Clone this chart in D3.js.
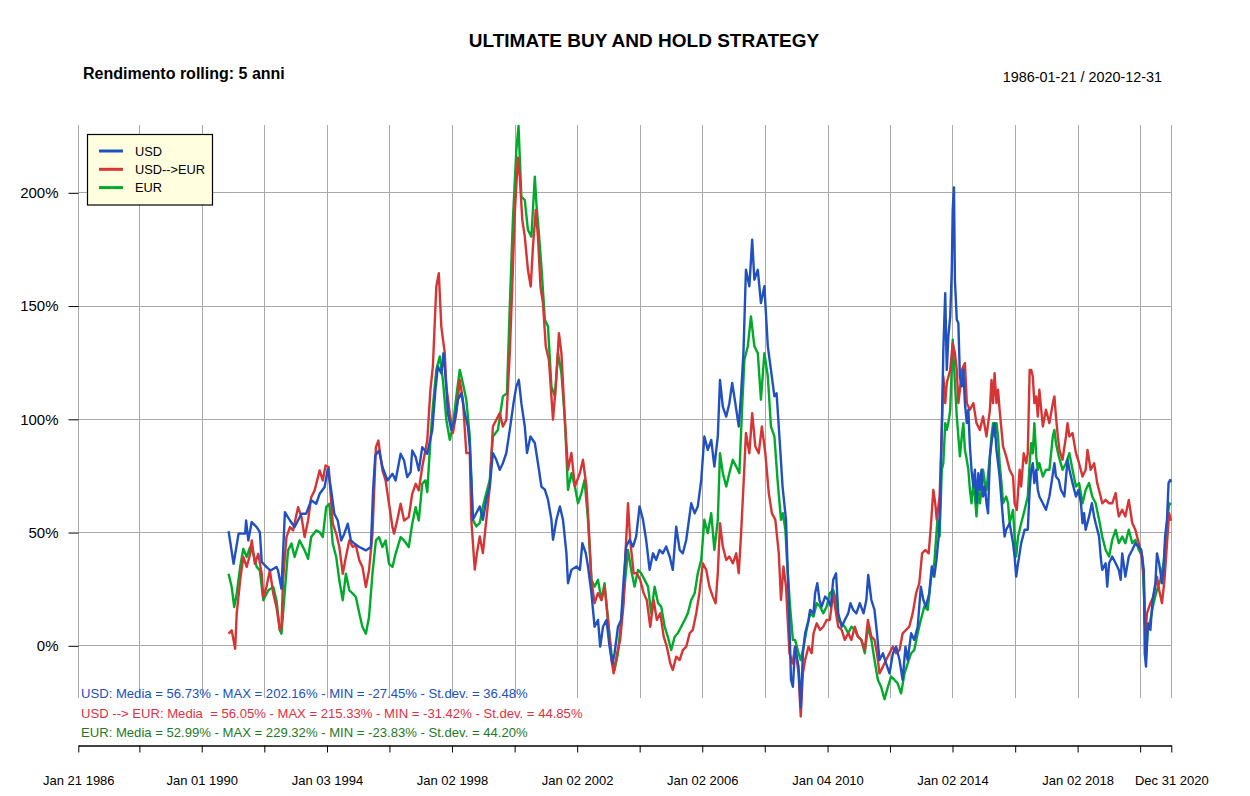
<!DOCTYPE html>
<html><head><meta charset="utf-8">
<script src="https://cdn.jsdelivr.net/npm/d3@7"></script>
<style>body{margin:0;background:#fff}svg{display:block;font-family:"Liberation Sans",Arial,sans-serif}</style>
</head><body><svg id="c" width="1250" height="796"></svg>
<script>
// ---- DATA (time as decimal year, value in %) ----
const seriesNames = ["USD", "USD-->EUR", "EUR"];
const usd = [[1990.86,50.4],[1991.02,36.0],[1991.18,49.3],[1991.39,49.3],[1991.42,55.1],[1991.49,46.3],[1991.60,54.4],[1991.76,52.2],[1991.86,50.0],[1991.92,36.8],[1992.07,34.6],[1992.20,33.0],[1992.39,34.6],[1992.44,33.1],[1992.55,25.0],[1992.66,58.8],[1992.82,55.1],[1992.97,52.2],[1993.19,58.1],[1993.34,58.1],[1993.50,64.0],[1993.66,62.5],[1993.77,66.9],[1993.93,69.9],[1994.03,77.9],[1994.14,68.4],[1994.24,58.1],[1994.35,55.1],[1994.46,46.3],[1994.56,49.3],[1994.67,53.7],[1994.77,46.3],[1994.88,44.9],[1995.04,43.4],[1995.25,41.9],[1995.41,43.4],[1995.48,68.4],[1995.55,83.8],[1995.67,86.0],[1995.78,78.7],[1995.94,72.8],[1996.10,75.7],[1996.20,72.8],[1996.36,84.6],[1996.47,81.6],[1996.57,74.3],[1996.68,76.5],[1996.73,86.0],[1996.84,83.1],[1996.94,77.2],[1997.05,87.5],[1997.21,84.6],[1997.37,94.9],[1997.47,112.5],[1997.55,123.1],[1997.66,120.1],[1997.73,129.0],[1997.82,114.3],[1997.87,102.5],[1997.98,95.1],[1998.09,99.6],[1998.19,108.4],[1998.30,111.3],[1998.41,102.5],[1998.51,96.6],[1998.57,87.8],[1998.62,73.1],[1998.67,55.4],[1998.78,58.4],[1998.89,61.3],[1998.99,55.4],[1999.10,64.3],[1999.21,70.1],[1999.31,84.9],[1999.42,81.9],[1999.53,77.5],[1999.63,80.4],[1999.74,84.9],[1999.85,95.1],[1999.97,106.9],[2000.06,114.3],[2000.14,117.2],[2000.22,106.9],[2000.33,96.6],[2000.40,84.9],[2000.51,92.2],[2000.65,89.3],[2000.75,80.4],[2000.86,70.1],[2000.97,68.7],[2001.07,64.3],[2001.18,55.4],[2001.23,46.6],[2001.34,55.4],[2001.45,61.3],[2001.55,55.4],[2001.66,40.6],[2001.71,27.4],[2001.82,33.3],[2001.98,34.8],[2002.09,33.3],[2002.17,45.1],[2002.28,40.6],[2002.35,34.8],[2002.46,23.0],[2002.56,8.2],[2002.67,11.2],[2002.74,-0.6],[2002.83,8.2],[2002.94,11.2],[2003.04,-0.6],[2003.13,-8.0],[2003.20,-3.5],[2003.31,8.2],[2003.41,11.2],[2003.49,28.9],[2003.57,43.6],[2003.68,46.5],[2003.79,43.6],[2003.89,48.0],[2004.00,61.3],[2004.11,55.4],[2004.21,46.5],[2004.32,33.3],[2004.43,40.6],[2004.53,37.7],[2004.64,42.1],[2004.74,40.6],[2004.85,43.6],[2004.96,39.2],[2005.06,33.3],[2005.17,52.4],[2005.28,42.1],[2005.38,40.6],[2005.49,46.5],[2005.65,62.7],[2005.76,58.3],[2005.86,61.3],[2005.97,73.0],[2006.07,92.2],[2006.18,86.3],[2006.29,90.7],[2006.39,78.9],[2006.50,92.2],[2006.57,117.2],[2006.66,105.4],[2006.77,101.0],[2006.87,106.9],[2006.96,115.8],[2007.06,106.9],[2007.17,96.6],[2007.24,109.9],[2007.32,129.0],[2007.40,165.8],[2007.51,158.5],[2007.60,179.1],[2007.67,161.4],[2007.78,165.8],[2007.88,151.1],[2007.99,158.5],[2008.10,132.0],[2008.20,121.6],[2008.31,109.9],[2008.38,111.3],[2008.47,92.2],[2008.57,70.1],[2008.68,55.4],[2008.77,18.6],[2008.84,-15.3],[2008.90,-18.3],[2008.97,-0.6],[2009.08,-9.4],[2009.15,-27.45],[2009.22,-3.5],[2009.29,5.3],[2009.40,11.2],[2009.45,15.6],[2009.56,14.1],[2009.61,23.0],[2009.68,27.4],[2009.75,20.0],[2009.82,17.1],[2009.93,21.5],[2010.03,20.0],[2010.11,17.1],[2010.19,28.9],[2010.28,31.8],[2010.35,14.1],[2010.46,8.2],[2010.56,11.2],[2010.67,14.1],[2010.74,18.6],[2010.83,15.6],[2010.93,14.1],[2011.04,18.6],[2011.16,14.1],[2011.25,20.0],[2011.31,31.1],[2011.41,20.0],[2011.51,15.6],[2011.59,5.3],[2011.67,-6.5],[2011.78,-3.5],[2011.88,-8.0],[2011.99,-12.4],[2012.10,-3.5],[2012.20,-0.6],[2012.31,-6.5],[2012.41,-15.3],[2012.50,-0.6],[2012.57,-6.5],[2012.68,5.3],[2012.78,2.4],[2012.89,8.2],[2012.99,25.9],[2013.07,20.0],[2013.15,17.1],[2013.26,23.0],[2013.34,34.8],[2013.42,30.3],[2013.49,37.7],[2013.56,48.0],[2013.61,62.7],[2013.66,95.1],[2013.71,130.5],[2013.77,155.5],[2013.82,121.6],[2013.87,136.4],[2013.93,145.2],[2013.98,165.8],[2014.01,192.3],[2014.05,202.16],[2014.08,161.4],[2014.14,143.7],[2014.19,142.3],[2014.24,118.7],[2014.30,114.3],[2014.35,121.6],[2014.40,106.9],[2014.46,98.1],[2014.51,104.0],[2014.56,87.8],[2014.61,77.5],[2014.67,70.1],[2014.72,77.5],[2014.77,62.7],[2014.83,76.0],[2014.88,68.6],[2014.93,77.5],[2014.98,65.7],[2015.04,70.1],[2015.09,62.7],[2015.14,58.3],[2015.20,83.4],[2015.25,89.2],[2015.30,95.1],[2015.35,98.1],[2015.41,86.3],[2015.46,80.4],[2015.51,74.5],[2015.62,55.4],[2015.67,48.0],[2015.72,51.0],[2015.83,53.9],[2015.94,45.1],[2015.99,39.2],[2016.04,30.3],[2016.10,36.2],[2016.15,40.6],[2016.20,45.1],[2016.31,51.0],[2016.41,51.0],[2016.47,68.6],[2016.52,77.5],[2016.57,80.4],[2016.62,71.6],[2016.68,77.5],[2016.73,68.6],[2016.78,65.7],[2016.89,62.7],[2016.99,59.8],[2017.10,65.7],[2017.15,70.1],[2017.26,80.4],[2017.31,74.5],[2017.40,73.0],[2017.47,68.6],[2017.58,65.7],[2017.68,81.9],[2017.74,77.5],[2017.84,71.6],[2017.95,65.7],[2018.03,68.6],[2018.11,62.7],[2018.16,53.9],[2018.21,58.3],[2018.26,51.0],[2018.37,56.9],[2018.46,62.7],[2018.53,56.9],[2018.58,53.9],[2018.69,48.0],[2018.74,39.2],[2018.79,33.3],[2018.90,36.2],[2018.95,25.9],[2019.01,36.2],[2019.11,39.2],[2019.22,36.2],[2019.32,33.3],[2019.38,28.9],[2019.43,40.6],[2019.53,30.3],[2019.64,39.2],[2019.75,42.1],[2019.85,45.1],[2019.96,43.6],[2020.04,42.1],[2020.12,33.3],[2020.15,-3.5],[2020.19,-9.4],[2020.25,9.7],[2020.33,6.8],[2020.40,20.0],[2020.49,27.4],[2020.54,40.6],[2020.61,36.2],[2020.70,27.4],[2020.75,33.3],[2020.80,48.0],[2020.86,55.4],[2020.91,71.6],[2020.96,73.0],[2020.99,72.0]];
const usdEur = [[1990.86,5.1],[1990.96,6.6],[1991.07,-1.5],[1991.12,14.0],[1991.23,28.7],[1991.33,39.0],[1991.44,34.6],[1991.55,40.4],[1991.60,46.3],[1991.70,36.0],[1991.81,40.4],[1991.92,31.6],[1991.97,21.3],[1992.07,25.7],[1992.18,33.1],[1992.29,22.8],[1992.39,16.9],[1992.50,6.6],[1992.55,8.1],[1992.60,28.7],[1992.71,47.8],[1992.82,52.2],[1992.92,50.7],[1993.08,61.0],[1993.19,56.6],[1993.29,47.8],[1993.40,55.1],[1993.50,65.4],[1993.61,68.4],[1993.77,77.2],[1993.87,72.8],[1993.96,79.4],[1994.06,78.7],[1994.19,53.7],[1994.30,49.3],[1994.40,43.4],[1994.51,31.6],[1994.61,39.0],[1994.72,46.3],[1994.83,43.4],[1994.93,44.1],[1995.04,37.5],[1995.14,34.6],[1995.25,25.7],[1995.35,33.1],[1995.46,49.3],[1995.57,87.5],[1995.65,90.4],[1995.78,77.2],[1995.88,72.8],[1995.99,62.5],[1996.10,52.2],[1996.15,49.3],[1996.25,55.1],[1996.36,62.5],[1996.47,55.1],[1996.62,56.6],[1996.73,66.9],[1996.84,71.3],[1996.94,68.4],[1997.05,78.7],[1997.21,90.4],[1997.31,112.5],[1997.39,123.1],[1997.50,158.4],[1997.58,164.3],[1997.66,140.7],[1997.77,129.0],[1997.82,114.3],[1997.93,102.5],[1998.03,93.7],[1998.14,102.5],[1998.25,117.2],[1998.35,108.4],[1998.46,84.9],[1998.57,84.9],[1998.62,55.4],[1998.73,33.4],[1998.80,40.7],[1998.89,48.1],[1998.99,40.7],[1999.10,55.4],[1999.21,70.1],[1999.31,96.6],[1999.42,99.6],[1999.53,102.5],[1999.63,96.6],[1999.74,99.6],[1999.85,129.0],[1999.93,158.4],[2000.01,190.7],[2000.11,215.33],[2000.17,206.9],[2000.25,187.8],[2000.33,180.4],[2000.43,165.7],[2000.52,158.4],[2000.59,176.0],[2000.68,192.2],[2000.75,180.4],[2000.83,158.4],[2000.91,151.0],[2001.00,131.9],[2001.10,126.0],[2001.23,99.6],[2001.32,114.3],[2001.42,137.8],[2001.50,129.0],[2001.61,99.6],[2001.71,77.5],[2001.82,84.9],[2001.93,70.1],[2002.09,76.0],[2002.19,81.9],[2002.30,70.1],[2002.35,58.3],[2002.46,28.9],[2002.56,18.6],[2002.67,23.0],[2002.78,20.0],[2002.88,25.9],[2002.99,11.2],[2003.10,-6.5],[2003.17,-12.4],[2003.28,-3.5],[2003.38,2.4],[2003.49,18.6],[2003.55,40.6],[2003.63,62.7],[2003.70,46.5],[2003.81,31.8],[2003.91,31.8],[2004.02,28.9],[2004.13,23.0],[2004.23,20.0],[2004.34,8.2],[2004.45,20.0],[2004.55,11.2],[2004.66,14.1],[2004.77,3.8],[2004.87,-0.6],[2004.98,-8.0],[2005.06,-10.9],[2005.17,-5.0],[2005.28,-6.5],[2005.38,-2.1],[2005.49,-0.6],[2005.60,5.3],[2005.70,6.8],[2005.81,14.1],[2005.91,23.0],[2006.02,36.2],[2006.13,33.3],[2006.23,25.9],[2006.34,21.5],[2006.43,18.6],[2006.50,31.8],[2006.57,53.9],[2006.66,43.6],[2006.77,37.7],[2006.87,39.2],[2006.98,36.2],[2007.09,40.6],[2007.17,31.8],[2007.24,48.0],[2007.32,70.1],[2007.40,93.7],[2007.51,84.8],[2007.60,102.5],[2007.70,87.8],[2007.81,84.8],[2007.91,96.6],[2008.02,84.8],[2008.13,67.2],[2008.23,58.3],[2008.34,55.4],[2008.45,40.6],[2008.52,20.0],[2008.60,34.8],[2008.68,25.9],[2008.79,-3.5],[2008.89,-8.0],[2008.97,-0.6],[2009.08,-12.4],[2009.15,-31.42],[2009.22,-12.4],[2009.29,-6.5],[2009.40,-0.6],[2009.50,-3.5],[2009.56,5.3],[2009.66,9.7],[2009.77,6.8],[2009.87,8.2],[2009.98,11.2],[2010.08,11.2],[2010.19,23.0],[2010.28,14.1],[2010.35,8.2],[2010.46,6.8],[2010.56,2.4],[2010.67,5.3],[2010.77,2.4],[2010.88,8.2],[2010.98,3.8],[2011.09,2.4],[2011.20,-2.1],[2011.30,11.2],[2011.41,3.8],[2011.51,2.4],[2011.59,-3.5],[2011.67,-12.4],[2011.78,-9.4],[2011.88,-6.5],[2011.99,-3.5],[2012.10,-0.6],[2012.20,-3.5],[2012.31,-2.1],[2012.41,5.3],[2012.52,6.8],[2012.62,8.2],[2012.73,14.1],[2012.84,23.0],[2012.94,27.4],[2013.03,40.6],[2013.13,42.1],[2013.24,40.6],[2013.31,52.4],[2013.39,68.6],[2013.45,62.7],[2013.50,55.4],[2013.59,65.7],[2013.66,95.1],[2013.71,118.7],[2013.77,106.9],[2013.82,115.8],[2013.93,121.6],[2014.01,133.4],[2014.08,129.0],[2014.14,121.6],[2014.19,106.9],[2014.24,112.8],[2014.30,121.6],[2014.40,124.6],[2014.46,106.9],[2014.56,104.0],[2014.67,106.9],[2014.77,98.1],[2014.88,95.1],[2014.98,101.0],[2015.09,92.2],[2015.20,104.0],[2015.25,117.2],[2015.30,106.9],[2015.35,120.1],[2015.41,106.9],[2015.46,112.8],[2015.51,104.0],[2015.57,95.1],[2015.62,87.8],[2015.72,83.4],[2015.83,77.5],[2015.94,74.5],[2015.99,62.7],[2016.06,59.8],[2016.15,77.5],[2016.20,70.1],[2016.28,84.8],[2016.36,80.4],[2016.41,84.8],[2016.47,121.6],[2016.52,121.6],[2016.57,118.7],[2016.62,106.9],[2016.68,109.9],[2016.73,101.0],[2016.78,112.8],[2016.84,104.0],[2016.89,96.6],[2016.99,104.0],[2017.10,98.1],[2017.21,106.9],[2017.26,109.9],[2017.31,101.0],[2017.37,92.2],[2017.42,86.3],[2017.52,81.9],[2017.63,92.2],[2017.68,98.1],[2017.74,92.2],[2017.84,93.7],[2017.95,84.8],[2018.05,80.4],[2018.16,74.5],[2018.26,77.5],[2018.32,86.3],[2018.42,77.5],[2018.53,80.4],[2018.63,71.6],[2018.74,65.7],[2018.79,62.7],[2018.90,64.2],[2019.01,62.7],[2019.11,62.7],[2019.22,67.2],[2019.27,61.3],[2019.32,56.9],[2019.43,59.8],[2019.53,56.9],[2019.64,64.2],[2019.75,54.0],[2019.85,51.0],[2019.96,45.1],[2020.04,40.6],[2020.12,30.3],[2020.17,3.8],[2020.22,14.1],[2020.33,18.6],[2020.43,21.5],[2020.54,30.3],[2020.61,24.4],[2020.70,18.6],[2020.78,28.9],[2020.86,45.1],[2020.93,58.3],[2020.99,55.0]];
const eur = [[1990.86,31.6],[1990.96,25.7],[1991.04,16.9],[1991.12,22.8],[1991.23,34.6],[1991.33,42.6],[1991.44,39.0],[1991.55,43.4],[1991.65,40.4],[1991.76,34.6],[1991.86,33.1],[1991.97,19.9],[1992.13,24.3],[1992.29,25.7],[1992.39,19.9],[1992.50,6.6],[1992.55,5.1],[1992.66,24.3],[1992.76,41.9],[1992.87,44.9],[1992.97,39.0],[1993.13,46.3],[1993.29,41.9],[1993.40,38.2],[1993.50,47.8],[1993.66,50.7],[1993.77,50.0],[1993.87,47.8],[1993.98,61.0],[1994.08,62.5],[1994.19,44.9],[1994.30,39.0],[1994.40,28.7],[1994.51,19.9],[1994.61,31.6],[1994.72,24.3],[1994.83,22.8],[1994.93,21.3],[1995.04,14.0],[1995.14,8.1],[1995.25,5.1],[1995.35,12.5],[1995.46,31.6],[1995.57,46.3],[1995.67,47.8],[1995.78,43.4],[1995.88,46.3],[1995.99,36.0],[1996.10,34.6],[1996.20,40.4],[1996.36,47.8],[1996.47,46.3],[1996.62,43.4],[1996.73,53.7],[1996.84,61.0],[1996.94,55.1],[1997.05,71.3],[1997.15,72.8],[1997.21,67.6],[1997.31,90.4],[1997.39,105.4],[1997.50,121.6],[1997.61,127.5],[1997.71,117.2],[1997.82,99.6],[1997.93,90.7],[1998.03,96.6],[1998.14,109.9],[1998.25,121.6],[1998.35,115.7],[1998.46,108.4],[1998.57,92.2],[1998.67,55.4],[1998.78,52.5],[1998.89,54.0],[1998.99,61.3],[1999.10,67.2],[1999.21,73.1],[1999.31,92.2],[1999.47,95.1],[1999.63,109.9],[1999.76,111.3],[1999.85,149.6],[1999.95,187.8],[2000.06,218.7],[2000.13,229.32],[2000.22,198.1],[2000.33,196.6],[2000.43,183.4],[2000.54,180.4],[2000.65,206.9],[2000.70,195.1],[2000.78,181.9],[2000.86,167.2],[2000.97,143.7],[2001.07,140.7],[2001.18,114.3],[2001.29,109.9],[2001.39,129.0],[2001.50,120.1],[2001.61,99.6],[2001.71,68.6],[2001.82,76.0],[2001.93,70.1],[2002.03,62.7],[2002.14,67.2],[2002.24,73.0],[2002.35,55.4],[2002.46,28.9],[2002.56,25.9],[2002.67,28.9],[2002.78,20.0],[2002.88,27.4],[2002.99,11.2],[2003.10,-3.5],[2003.20,-10.9],[2003.31,-3.5],[2003.41,11.2],[2003.52,25.9],[2003.63,42.1],[2003.73,33.3],[2003.84,25.9],[2003.95,33.3],[2004.05,31.8],[2004.16,28.9],[2004.27,25.9],[2004.37,14.1],[2004.48,25.9],[2004.59,18.6],[2004.69,17.1],[2004.80,8.2],[2004.90,3.8],[2005.01,-2.1],[2005.12,3.8],[2005.22,5.3],[2005.33,8.2],[2005.44,11.2],[2005.54,14.1],[2005.65,20.0],[2005.76,23.0],[2005.86,31.8],[2005.97,37.7],[2006.07,55.4],[2006.18,49.5],[2006.29,58.3],[2006.39,42.1],[2006.50,55.4],[2006.57,84.8],[2006.66,76.0],[2006.77,70.1],[2006.87,76.0],[2006.98,81.9],[2007.09,78.9],[2007.19,76.0],[2007.28,105.4],[2007.35,126.1],[2007.46,132.0],[2007.56,145.2],[2007.67,132.0],[2007.78,129.0],[2007.88,108.4],[2007.99,129.0],[2008.10,118.7],[2008.20,96.6],[2008.31,92.2],[2008.41,73.0],[2008.52,55.4],[2008.58,58.3],[2008.66,51.0],[2008.71,37.7],[2008.81,17.1],[2008.90,2.4],[2008.97,2.4],[2009.08,-3.5],[2009.15,-6.5],[2009.24,-0.6],[2009.34,6.8],[2009.45,14.1],[2009.56,12.7],[2009.66,18.6],[2009.77,17.1],[2009.87,14.1],[2009.98,17.1],[2010.08,23.0],[2010.19,24.4],[2010.28,20.0],[2010.35,11.2],[2010.46,9.7],[2010.56,8.2],[2010.67,5.3],[2010.77,8.2],[2010.88,6.8],[2010.98,3.8],[2011.09,2.4],[2011.20,-3.5],[2011.30,8.2],[2011.41,2.4],[2011.51,-6.5],[2011.62,-15.3],[2011.72,-18.3],[2011.83,-23.83],[2011.94,-18.3],[2012.04,-13.8],[2012.15,-15.3],[2012.25,-16.8],[2012.36,-21.2],[2012.47,-12.4],[2012.57,-8.0],[2012.68,-3.5],[2012.78,-2.1],[2012.89,5.3],[2012.99,11.2],[2013.10,17.1],[2013.21,15.6],[2013.31,28.9],[2013.42,36.2],[2013.52,55.4],[2013.59,48.0],[2013.66,77.5],[2013.71,80.4],[2013.77,98.1],[2013.82,95.1],[2013.87,98.1],[2013.93,104.0],[2014.01,134.9],[2014.08,115.8],[2014.14,101.0],[2014.19,92.2],[2014.24,83.4],[2014.30,92.2],[2014.35,98.1],[2014.40,86.3],[2014.46,81.9],[2014.51,77.5],[2014.56,68.6],[2014.61,62.7],[2014.67,71.6],[2014.72,65.7],[2014.77,56.9],[2014.83,68.6],[2014.88,62.7],[2014.93,68.6],[2014.98,77.5],[2015.04,71.6],[2015.09,68.6],[2015.20,83.4],[2015.25,92.2],[2015.30,98.1],[2015.35,92.2],[2015.41,98.1],[2015.46,92.2],[2015.51,80.4],[2015.57,71.6],[2015.62,62.7],[2015.72,65.7],[2015.78,62.7],[2015.83,53.9],[2015.94,59.8],[2015.99,48.0],[2016.04,39.2],[2016.10,48.0],[2016.20,53.9],[2016.31,59.8],[2016.41,65.7],[2016.47,80.4],[2016.52,89.2],[2016.57,84.8],[2016.62,98.1],[2016.68,83.4],[2016.73,77.5],[2016.78,80.4],[2016.89,74.5],[2016.99,77.5],[2017.10,77.5],[2017.21,92.2],[2017.26,95.1],[2017.31,89.2],[2017.40,83.4],[2017.52,77.5],[2017.63,80.4],[2017.74,84.8],[2017.84,77.5],[2017.95,70.1],[2018.05,71.6],[2018.16,62.7],[2018.26,68.6],[2018.37,71.6],[2018.47,65.7],[2018.58,62.7],[2018.69,55.4],[2018.79,48.0],[2018.90,42.1],[2019.01,39.2],[2019.11,46.5],[2019.22,51.0],[2019.32,45.1],[2019.43,48.0],[2019.53,45.1],[2019.64,51.0],[2019.75,45.1],[2019.85,46.5],[2019.96,42.1],[2020.07,39.2],[2020.15,15.6],[2020.19,-5.0],[2020.25,6.8],[2020.33,11.2],[2020.43,18.6],[2020.54,24.4],[2020.65,28.9],[2020.75,36.2],[2020.86,53.9],[2020.93,62.7],[2020.99,62.0]];
const yTicks = [0, 50, 100, 150, 200];
const xTickDates = ["1986-01-21","1988-01-04","1990-01-01","1992-01-02","1994-01-03","1996-01-02","1998-01-02","2000-01-03","2002-01-02","2004-01-02","2006-01-02","2008-01-02","2010-01-04","2012-01-03","2014-01-02","2016-01-04","2018-01-02","2020-01-02","2020-12-31"];
const xLabelled = ["1986-01-21","1990-01-01","1994-01-03","1998-01-02","2002-01-02","2006-01-02","2010-01-04","2014-01-02","2018-01-02","2020-12-31"];
const statsLines = [
  "USD: Media = 56.73% - MAX = 202.16% - MIN = -27.45% - St.dev. = 36.48%",
  "USD --> EUR: Media  = 56.05% - MAX = 215.33% - MIN = -31.42% - St.dev. = 44.85%",
  "EUR: Media = 52.99% - MAX = 229.32% - MIN = -23.83% - St.dev. = 44.20%"
];
const titleText = "ULTIMATE BUY AND HOLD STRATEGY";
const subtitleText = "Rendimento rolling: 5 anni";
const rangeText = "1986-01-21 / 2020-12-31";

// ---- STYLE ----
const lineColors = ["#2150c0", "#d63535", "#00aa2a"];
const textColors = ["#2050c0", "#e0303f", "#1e7a1e"];

const svg = d3.select("#c");
const parse = d3.utcParse("%Y-%m-%d");
function decYear(y){const yr=Math.floor(y);const a=Date.UTC(yr,0,1),b=Date.UTC(yr+1,0,1);return new Date(a+(y-yr)*(b-a));}

const x = d3.scaleUtc().domain([parse("1986-01-21"), parse("2020-12-31")]).range([78.3, 1171.3]);
const y = d3.scaleLinear().domain([0, 200]).range([645.3, 192.3]);

const grid = svg.append("g").attr("stroke", "#a9a9a9").attr("stroke-width", 1);
grid.selectAll("line.h").data(yTicks).join("line")
  .attr("x1", 78).attr("x2", 1172)
  .attr("y1", d => Math.round(y(d)) + 0.5).attr("y2", d => Math.round(y(d)) + 0.5);
grid.selectAll("line.v").data(xTickDates).join("line")
  .attr("x1", d => Math.round(x(parse(d))) + 0.5).attr("x2", d => Math.round(x(parse(d))) + 0.5)
  .attr("y1", 125).attr("y2", 698);

// y axis
const yAxis = d3.axisLeft(y).tickValues(yTicks).tickFormat(d => d + "%").tickSize(10).tickPadding(10);
const ya = svg.append("g").attr("transform", "translate(78.5,0.5)").call(yAxis);
ya.select(".domain").remove();
ya.selectAll("text").attr("font-size", 15).attr("font-family", "Liberation Sans, Arial, sans-serif").attr("fill", "#000");

// x axis
const fmt = d3.utcFormat("%b %d %Y");
const xAxis = d3.axisBottom(x).tickValues(xTickDates.map(parse)).tickSize(7).tickSizeOuter(0).tickPadding(23)
  .tickFormat(d => xLabelled.includes(d3.utcFormat("%Y-%m-%d")(d)) ? fmt(d) : "");
const xa = svg.append("g").attr("transform", "translate(0,745.5)").call(xAxis);
xa.select(".domain").attr("stroke-width", 1.3);
xa.selectAll("text").attr("font-size", 13).attr("font-family", "Liberation Sans, Arial, sans-serif").attr("fill", "#000");

// lines (EUR first, USD on top)
const line = d3.line().x(d => x(decYear(d[0]))).y(d => y(d[1]));
const all = [usd, usdEur, eur];
[2, 1, 0].forEach(i => {
  svg.append("path").datum(all[i]).attr("d", line)
    .attr("fill", "none").attr("stroke", lineColors[i]).attr("stroke-width", 2.4)
    .attr("stroke-linejoin", "round");
});

// legend
const lg = svg.append("g");
lg.append("rect").attr("x", 87.5).attr("y", 134.5).attr("width", 125).attr("height", 70.5)
  .attr("fill", "#ffffe0").attr("stroke", "#000").attr("stroke-width", 1.2);
seriesNames.forEach((n, i) => {
  const yy = 151 + i * 18.3;
  lg.append("line").attr("x1", 99).attr("x2", 123).attr("y1", yy).attr("y2", yy)
    .attr("stroke", lineColors[i]).attr("stroke-width", 3);
  lg.append("text").attr("x", 135).attr("y", yy + 4.6).attr("font-size", 12.8).attr("fill", "#000").text(n);
});

// stats
statsLines.forEach((t, i) => {
  svg.append("text").attr("x", 81).attr("y", 698 + i * 19.5).attr("font-size", 13.1)
    .attr("fill", textColors[i]).style("white-space", "pre").attr("xml:space", "preserve").text(t);
});

// titles
svg.append("text").attr("x", 644).attr("y", 47).attr("text-anchor", "middle")
  .attr("font-weight", "bold").attr("font-size", 19).text(titleText);
svg.append("text").attr("x", 83).attr("y", 79).attr("font-weight", "bold").attr("font-size", 16).text(subtitleText);
svg.append("text").attr("x", 1162).attr("y", 82).attr("text-anchor", "end").attr("font-size", 14.4).text(rangeText);
</script>
</body></html>
